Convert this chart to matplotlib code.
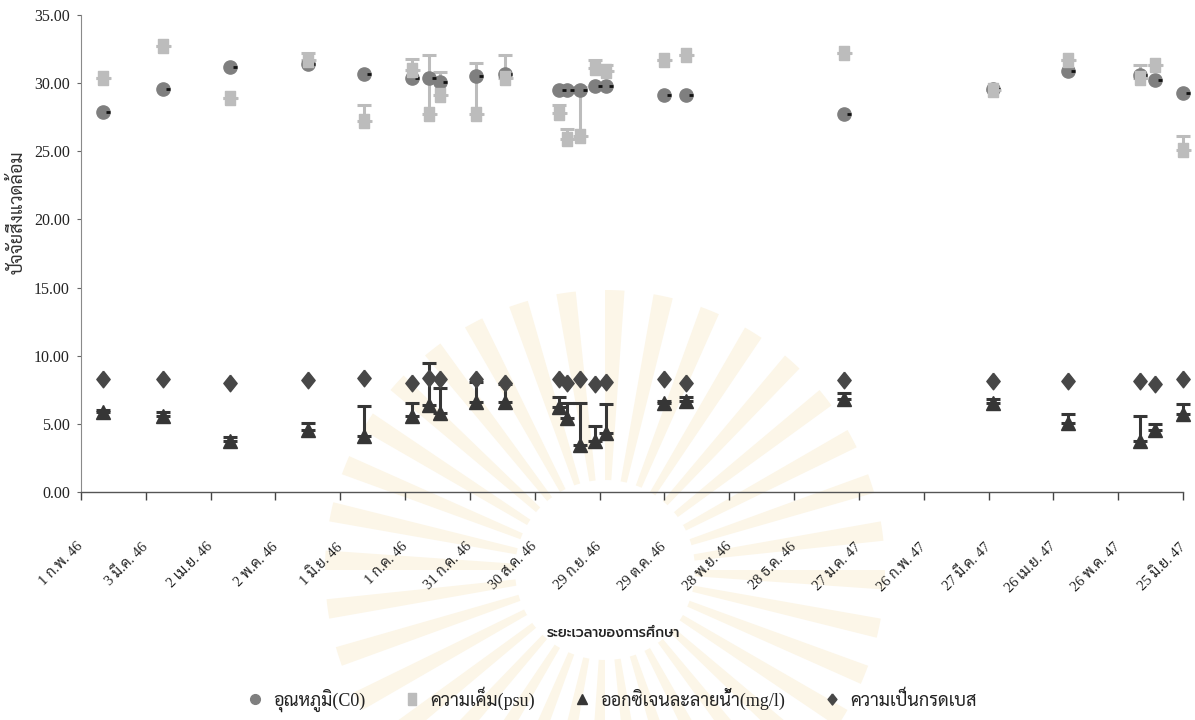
import numpy as np
import pandas as pd
import matplotlib
matplotlib.use("Agg")
import matplotlib.pyplot as plt
from matplotlib.path import Path
from matplotlib.lines import Line2D
from matplotlib.patches import Wedge

# ---- sampling data -------------------------------------------------------
sample_dates = [
    "2003-02-11", "2003-03-11", "2003-04-11", "2003-05-17", "2003-06-12",
    "2003-07-04", "2003-07-12", "2003-07-17", "2003-08-03", "2003-08-16",
    "2003-09-10", "2003-09-14", "2003-09-20", "2003-09-27", "2003-10-02",
    "2003-10-29", "2003-11-08", "2004-01-20", "2004-03-29", "2004-05-03",
    "2004-06-05", "2004-06-12", "2004-06-25",
]
temperature = [27.9, 29.6, 31.2, 31.4, 30.7, 30.4, 30.4, 30.1, 30.5, 30.7,
               29.5, 29.5, 29.5, 29.8, 29.8, 29.1, 29.1, 27.7, 29.6, 30.9,
               30.6, 30.2, 29.3]
salinity = [30.4, 32.7, 28.9, 31.7, 27.2, 31.0, 27.7, 29.1, 27.7, 30.4,
            27.8, 25.9, 26.1, 31.1, 30.9, 31.7, 32.1, 32.2, 29.5, 31.7,
            30.4, 31.3, 25.1]
salinity_err = [0.0, 0.0, 0.0, 0.5, 1.2, 0.8, 4.35, 1.75, 3.75, 1.7,
                0.6, 0.75, 3.6, 0.6, 0.45, 0.0, 0.0, 0.0, 0.0, 0.0,
                0.9, 0.0, 1.0]
oxygen = [5.9, 5.6, 3.75, 4.55, 4.1, 5.6, 6.4, 5.8, 6.6, 6.6,
          6.25, 5.4, 3.45, 3.75, 4.35, 6.55, 6.7, 6.85, 6.55, 5.05,
          3.75, 4.55, 5.7]
oxygen_err = [0.1, 0.3, 0.25, 0.5, 2.2, 0.9, 3.1, 1.85, 1.5, 1.3,
              0.75, 1.1, 3.1, 1.1, 2.1, 0.1, 0.3, 0.45, 0.3, 0.65,
              1.85, 0.45, 0.75]
ph = [8.3, 8.3, 8.0, 8.25, 8.4, 8.0, 8.4, 8.3, 8.3, 8.0,
      8.3, 8.0, 8.3, 7.95, 8.1, 8.3, 8.0, 8.25, 8.15, 8.15,
      8.15, 7.95, 8.3]

tick_labels = [
    "1 ก.พ. 46", "3 มี.ค. 46", "2 เม.ย. 46", "2 พ.ค. 46", "1 มิ.ย. 46",
    "1 ก.ค. 46", "31 ก.ค. 46", "30 ส.ค. 46", "29 ก.ย. 46", "29 ต.ค. 46",
    "28 พ.ย. 46", "28 ธ.ค. 46", "27 ม.ค. 47", "26 ก.พ. 47", "27 มี.ค. 47",
    "26 เม.ย. 47", "26 พ.ค. 47", "25 มิ.ย. 47",
]
y_ticks = [0, 5, 10, 15, 20, 25, 30, 35]
series_labels = ["อุณหภูมิ(C0)", "ความเค็ม(psu)",
                 "ออกซิเจนละลายน้ำ(mg/l)", "ความเป็นกรดเบส"]
x_title = "ระยะเวลาของการศึกษา"
y_title = "ปัจจัยสิ่งแวดล้อม"

# ---- styling -------------------------------------------------------------
THAI = ["Sarabun", "DejaVu Sans"]
SERIF_THAI = ["Liberation Serif", "Sarabun", "DejaVu Sans"]
C_TEMP = "#7f7f7f"
C_SAL = "#bcbcbc"
C_DO = "#363636"
C_PH = "#474747"

rect_marker = [(-0.68, -1), (0.68, -1), (0.68, 1), (-0.68, 1), (-0.68, -1)]
diamond_marker = [(0, 1), (0.8, 0), (0, -1), (-0.8, 0), (0, 1)]
dash_marker = Path([(0.42, 0), (1.0, 0)], [Path.MOVETO, Path.LINETO])

W, H = 1195, 720
fig = plt.figure(figsize=(W / 100, H / 100), dpi=100)
fig.patch.set_facecolor("white")

# faint emblem rays printed behind the lower part of the page
bg = fig.add_axes([0, 0, 1, 1], zorder=-5)
bg.set_xlim(0, W)
bg.set_ylim(H, 0)
bg.axis("off")
for ang in np.arange(0, 360, 10):
    bg.add_patch(Wedge((605, 570), 280, ang, ang + 4.0, width=190,
                       facecolor="#fcf6e8", edgecolor="none"))

ax = fig.add_axes([81 / W, (H - 492) / H, (1183 - 81) / W, (492 - 15) / H])
ax.set_facecolor("none")

x = pd.to_datetime(sample_dates)
zeros = np.zeros(len(x))

# salinity error bars, then temperature and salinity markers
ax.errorbar(x, salinity, yerr=[zeros, salinity_err], fmt="none",
            ecolor=C_SAL, elinewidth=2.2, capsize=5, capthick=2.2,
            zorder=2, clip_on=False)
ax.plot(x, temperature, ls="none", marker="o", ms=9.5, mfc=C_TEMP,
        mec=C_TEMP, zorder=3, clip_on=False)
ax.plot(x, temperature, ls="none", marker=dash_marker, ms=10, mec="#111111",
        mew=2, fillstyle="none", zorder=3.5, clip_on=False)
ax.plot(x, salinity, ls="none", marker=rect_marker, ms=10.5, mfc=C_SAL,
        mec=C_SAL, zorder=4, clip_on=False)
ax.plot(x, salinity, ls="none", marker=dash_marker, ms=12, mec=C_SAL,
        mew=2, fillstyle="none", zorder=4.5, clip_on=False)

# dissolved oxygen with upper error bars, pH on top
ax.errorbar(x, oxygen, yerr=[zeros, oxygen_err], fmt="none",
            ecolor=C_DO, elinewidth=2.2, capsize=5, capthick=2.2,
            zorder=5, clip_on=False)
ax.plot(x, oxygen, ls="none", marker="^", ms=10.5, mfc=C_DO, mec=C_DO,
        zorder=6, clip_on=False)
ax.plot(x, ph, ls="none", marker=diamond_marker, ms=12, mfc=C_PH, mec=C_PH,
        zorder=7, clip_on=False)

# axes
tick_pos = pd.date_range("2003-02-01", periods=len(tick_labels), freq="30D")
ax.set_xlim(tick_pos[0], tick_pos[-1])
ax.set_ylim(0, 35)
ax.set_xticks(tick_pos)
ax.set_xticklabels(tick_labels, rotation=45, ha="right", va="center",
                   rotation_mode="anchor", fontfamily=SERIF_THAI,
                   fontsize=10.5, color="#222222")
ax.set_yticks(y_ticks)
ax.set_yticklabels([f"{v:.2f}" for v in y_ticks], fontfamily=SERIF_THAI,
                   fontsize=11.5, color="#222222")
ax.tick_params(axis="x", direction="out", length=6, width=1,
               color="#444444", pad=32)
ax.tick_params(axis="y", direction="out", length=3, width=0.8,
               color="#666666", pad=5)
for side in ("top", "right"):
    ax.spines[side].set_visible(False)
ax.spines["left"].set_color("#8a8a8a")
ax.spines["left"].set_linewidth(0.8)
ax.spines["bottom"].set_color("#555555")
ax.spines["bottom"].set_linewidth(1.0)

fig.text(18 / W, 1 - 212 / H, y_title, rotation=90, ha="center",
         va="center", fontfamily=THAI, fontsize=13, color="#333333")
fig.text(613 / W, 1 - 633 / H, x_title, ha="center", va="center",
         fontfamily=["Prompt", "Sarabun", "DejaVu Sans"], fontsize=10,
         fontweight="medium", color="#222222")

handles = [
    Line2D([], [], ls="none", marker="o", ms=7, mfc=C_TEMP, mec=C_TEMP),
    Line2D([], [], ls="none", marker=rect_marker, ms=8, mfc=C_SAL, mec=C_SAL),
    Line2D([], [], ls="none", marker="^", ms=7, mfc=C_DO, mec=C_DO),
    Line2D([], [], ls="none", marker=diamond_marker, ms=8, mfc=C_PH, mec=C_PH),
]
fig.legend(handles, series_labels, loc="center", ncol=4,
           bbox_to_anchor=(612 / W, 1 - 699 / H), frameon=False,
           prop={"family": SERIF_THAI, "size": 13}, handlelength=0.8,
           handletextpad=0.6, columnspacing=2.2, labelcolor="#222222")

fig.savefig("out.png", dpi=100, facecolor="white")
